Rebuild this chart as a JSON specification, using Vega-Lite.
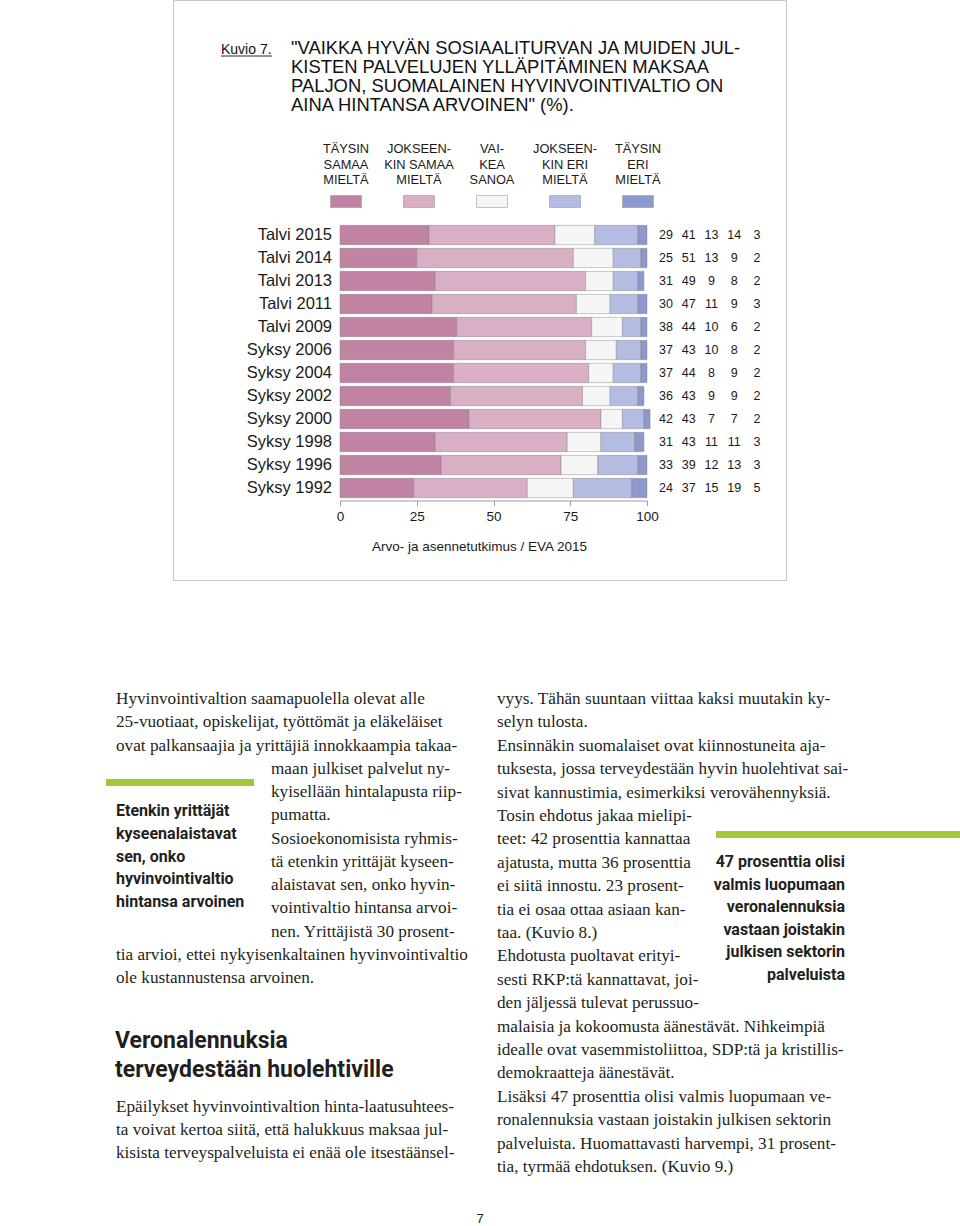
{
  "$schema": "https://vega.github.io/schema/vega-lite/v6.json",
  "width": 960,
  "height": 1226,
  "autosize": {"type": "none"},
  "padding": 0,
  "background": "#ffffff",
  "config": {"view": {"stroke": null}},
  "datasets": {
    "kysely": [
      {"kausi": "Talvi 2015", "vastaus": "Täysin samaa mieltä", "k": 1, "osuus": 29},
      {"kausi": "Talvi 2015", "vastaus": "Jokseenkin samaa mieltä", "k": 2, "osuus": 41},
      {"kausi": "Talvi 2015", "vastaus": "Vaikea sanoa", "k": 3, "osuus": 13},
      {"kausi": "Talvi 2015", "vastaus": "Jokseenkin eri mieltä", "k": 4, "osuus": 14},
      {"kausi": "Talvi 2015", "vastaus": "Täysin eri mieltä", "k": 5, "osuus": 3},
      {"kausi": "Talvi 2014", "vastaus": "Täysin samaa mieltä", "k": 1, "osuus": 25},
      {"kausi": "Talvi 2014", "vastaus": "Jokseenkin samaa mieltä", "k": 2, "osuus": 51},
      {"kausi": "Talvi 2014", "vastaus": "Vaikea sanoa", "k": 3, "osuus": 13},
      {"kausi": "Talvi 2014", "vastaus": "Jokseenkin eri mieltä", "k": 4, "osuus": 9},
      {"kausi": "Talvi 2014", "vastaus": "Täysin eri mieltä", "k": 5, "osuus": 2},
      {"kausi": "Talvi 2013", "vastaus": "Täysin samaa mieltä", "k": 1, "osuus": 31},
      {"kausi": "Talvi 2013", "vastaus": "Jokseenkin samaa mieltä", "k": 2, "osuus": 49},
      {"kausi": "Talvi 2013", "vastaus": "Vaikea sanoa", "k": 3, "osuus": 9},
      {"kausi": "Talvi 2013", "vastaus": "Jokseenkin eri mieltä", "k": 4, "osuus": 8},
      {"kausi": "Talvi 2013", "vastaus": "Täysin eri mieltä", "k": 5, "osuus": 2},
      {"kausi": "Talvi 2011", "vastaus": "Täysin samaa mieltä", "k": 1, "osuus": 30},
      {"kausi": "Talvi 2011", "vastaus": "Jokseenkin samaa mieltä", "k": 2, "osuus": 47},
      {"kausi": "Talvi 2011", "vastaus": "Vaikea sanoa", "k": 3, "osuus": 11},
      {"kausi": "Talvi 2011", "vastaus": "Jokseenkin eri mieltä", "k": 4, "osuus": 9},
      {"kausi": "Talvi 2011", "vastaus": "Täysin eri mieltä", "k": 5, "osuus": 3},
      {"kausi": "Talvi 2009", "vastaus": "Täysin samaa mieltä", "k": 1, "osuus": 38},
      {"kausi": "Talvi 2009", "vastaus": "Jokseenkin samaa mieltä", "k": 2, "osuus": 44},
      {"kausi": "Talvi 2009", "vastaus": "Vaikea sanoa", "k": 3, "osuus": 10},
      {"kausi": "Talvi 2009", "vastaus": "Jokseenkin eri mieltä", "k": 4, "osuus": 6},
      {"kausi": "Talvi 2009", "vastaus": "Täysin eri mieltä", "k": 5, "osuus": 2},
      {"kausi": "Syksy 2006", "vastaus": "Täysin samaa mieltä", "k": 1, "osuus": 37},
      {"kausi": "Syksy 2006", "vastaus": "Jokseenkin samaa mieltä", "k": 2, "osuus": 43},
      {"kausi": "Syksy 2006", "vastaus": "Vaikea sanoa", "k": 3, "osuus": 10},
      {"kausi": "Syksy 2006", "vastaus": "Jokseenkin eri mieltä", "k": 4, "osuus": 8},
      {"kausi": "Syksy 2006", "vastaus": "Täysin eri mieltä", "k": 5, "osuus": 2},
      {"kausi": "Syksy 2004", "vastaus": "Täysin samaa mieltä", "k": 1, "osuus": 37},
      {"kausi": "Syksy 2004", "vastaus": "Jokseenkin samaa mieltä", "k": 2, "osuus": 44},
      {"kausi": "Syksy 2004", "vastaus": "Vaikea sanoa", "k": 3, "osuus": 8},
      {"kausi": "Syksy 2004", "vastaus": "Jokseenkin eri mieltä", "k": 4, "osuus": 9},
      {"kausi": "Syksy 2004", "vastaus": "Täysin eri mieltä", "k": 5, "osuus": 2},
      {"kausi": "Syksy 2002", "vastaus": "Täysin samaa mieltä", "k": 1, "osuus": 36},
      {"kausi": "Syksy 2002", "vastaus": "Jokseenkin samaa mieltä", "k": 2, "osuus": 43},
      {"kausi": "Syksy 2002", "vastaus": "Vaikea sanoa", "k": 3, "osuus": 9},
      {"kausi": "Syksy 2002", "vastaus": "Jokseenkin eri mieltä", "k": 4, "osuus": 9},
      {"kausi": "Syksy 2002", "vastaus": "Täysin eri mieltä", "k": 5, "osuus": 2},
      {"kausi": "Syksy 2000", "vastaus": "Täysin samaa mieltä", "k": 1, "osuus": 42},
      {"kausi": "Syksy 2000", "vastaus": "Jokseenkin samaa mieltä", "k": 2, "osuus": 43},
      {"kausi": "Syksy 2000", "vastaus": "Vaikea sanoa", "k": 3, "osuus": 7},
      {"kausi": "Syksy 2000", "vastaus": "Jokseenkin eri mieltä", "k": 4, "osuus": 7},
      {"kausi": "Syksy 2000", "vastaus": "Täysin eri mieltä", "k": 5, "osuus": 2},
      {"kausi": "Syksy 1998", "vastaus": "Täysin samaa mieltä", "k": 1, "osuus": 31},
      {"kausi": "Syksy 1998", "vastaus": "Jokseenkin samaa mieltä", "k": 2, "osuus": 43},
      {"kausi": "Syksy 1998", "vastaus": "Vaikea sanoa", "k": 3, "osuus": 11},
      {"kausi": "Syksy 1998", "vastaus": "Jokseenkin eri mieltä", "k": 4, "osuus": 11},
      {"kausi": "Syksy 1998", "vastaus": "Täysin eri mieltä", "k": 5, "osuus": 3},
      {"kausi": "Syksy 1996", "vastaus": "Täysin samaa mieltä", "k": 1, "osuus": 33},
      {"kausi": "Syksy 1996", "vastaus": "Jokseenkin samaa mieltä", "k": 2, "osuus": 39},
      {"kausi": "Syksy 1996", "vastaus": "Vaikea sanoa", "k": 3, "osuus": 12},
      {"kausi": "Syksy 1996", "vastaus": "Jokseenkin eri mieltä", "k": 4, "osuus": 13},
      {"kausi": "Syksy 1996", "vastaus": "Täysin eri mieltä", "k": 5, "osuus": 3},
      {"kausi": "Syksy 1992", "vastaus": "Täysin samaa mieltä", "k": 1, "osuus": 24},
      {"kausi": "Syksy 1992", "vastaus": "Jokseenkin samaa mieltä", "k": 2, "osuus": 37},
      {"kausi": "Syksy 1992", "vastaus": "Vaikea sanoa", "k": 3, "osuus": 15},
      {"kausi": "Syksy 1992", "vastaus": "Jokseenkin eri mieltä", "k": 4, "osuus": 19},
      {"kausi": "Syksy 1992", "vastaus": "Täysin eri mieltä", "k": 5, "osuus": 5}
    ]
  },
  "resolve": {"scale": {"x": "independent", "y": "independent", "color": "independent"}},
  "layer": [
    {
      "data": {"values": [{"kuvio": "Kuvio 7"}]},
      "mark": {"type": "rect", "fill": "transparent", "stroke": "#c8c8c8", "strokeWidth": 1},
      "encoding": {
        "x": {"datum": 0, "type": "quantitative", "scale": {"domain": [0, 1], "range": [173.5, 786.5], "nice": false, "zero": false}, "axis": null},
        "x2": {"datum": 1},
        "y": {"datum": 0, "type": "quantitative", "scale": {"domain": [0, 1], "range": [0.5, 580.5], "nice": false, "zero": false}, "axis": null},
        "y2": {"datum": 1}
      }
    },
    {
      "data": {"values": [
        {"osa": "kuvio", "rivi": 0, "teksti": "Kuvio 7."},
        {"osa": "otsikko", "rivi": 0, "teksti": "\"VAIKKA HYVÄN SOSIAALITURVAN JA MUIDEN JUL-"},
        {"osa": "otsikko", "rivi": 1, "teksti": "KISTEN PALVELUJEN YLLÄPITÄMINEN MAKSAA"},
        {"osa": "otsikko", "rivi": 2, "teksti": "PALJON, SUOMALAINEN HYVINVOINTIVALTIO ON"},
        {"osa": "otsikko", "rivi": 3, "teksti": "AINA HINTANSA ARVOINEN\" (%)."}
      ]},
      "encoding": {
        "x": {"field": "osa", "type": "nominal", "sort": null, "scale": {"type": "point", "domain": ["kuvio", "otsikko"], "range": [221, 291], "padding": 0}, "axis": null},
        "y": {"field": "rivi", "type": "quantitative", "scale": {"domain": [0, 3], "range": [53.5, 110.5], "nice": false, "zero": false}, "axis": null}
      },
      "layer": [
        {
          "transform": [{"filter": {"field": "osa", "equal": "otsikko"}}],
          "mark": {"type": "text", "align": "left", "baseline": "alphabetic", "font": "Liberation Sans", "fontSize": 18.4, "color": "#111111"},
          "encoding": {"text": {"field": "teksti"}}
        },
        {
          "transform": [{"filter": {"field": "osa", "equal": "kuvio"}}],
          "mark": {"type": "text", "align": "left", "baseline": "alphabetic", "font": "Liberation Sans", "fontSize": 14, "color": "#111111"},
          "encoding": {"text": {"field": "teksti"}}
        },
        {
          "transform": [{"filter": {"field": "osa", "equal": "kuvio"}}],
          "mark": {"type": "rule", "x2Offset": -19, "yOffset": 2.5, "color": "#111111", "strokeWidth": 0.9},
          "encoding": {"x2": {"datum": "otsikko"}}
        }
      ]
    },
    {
      "data": {"values": [
        {"vastaus": "Täysin samaa mieltä", "nimi": "TÄYSIN\nSAMAA\nMIELTÄ"},
        {"vastaus": "Jokseenkin samaa mieltä", "nimi": "JOKSEEN-\nKIN SAMAA\nMIELTÄ"},
        {"vastaus": "Vaikea sanoa", "nimi": "VAI-\nKEA\nSANOA"},
        {"vastaus": "Jokseenkin eri mieltä", "nimi": "JOKSEEN-\nKIN ERI\nMIELTÄ"},
        {"vastaus": "Täysin eri mieltä", "nimi": "TÄYSIN\nERI\nMIELTÄ"}
      ]},
      "encoding": {
        "x": {"field": "vastaus", "type": "nominal", "sort": null, "scale": {"type": "point", "range": [346, 638], "padding": 0}, "axis": null}
      },
      "layer": [
        {
          "mark": {"type": "point", "shape": "M-1,-0.387H1V0.387H-1Z", "size": 961, "filled": true, "opacity": 1, "stroke": "#9a9a9a", "strokeWidth": 0.6},
          "encoding": {
            "y": {"datum": "ruutu", "type": "nominal", "scale": {"type": "point", "domain": ["teksti", "ruutu"], "range": [143, 201.5], "padding": 0}, "axis": null},
            "color": {"field": "vastaus", "type": "nominal", "scale": {"domain": ["Täysin samaa mieltä", "Jokseenkin samaa mieltä", "Vaikea sanoa", "Jokseenkin eri mieltä", "Täysin eri mieltä"], "range": ["#c083a3", "#d8afc4", "#f5f5f5", "#b4bde1", "#8d99cd"]}, "legend": null}
          }
        },
        {
          "mark": {"type": "text", "lineBreak": "\n", "align": "center", "baseline": "top", "font": "Liberation Sans", "fontSize": 12.8, "lineHeight": 15.5, "color": "#1a1a1a"},
          "encoding": {
            "y": {"datum": "teksti", "type": "nominal"},
            "text": {"field": "nimi"}
          }
        }
      ]
    },
    {
      "data": {"name": "kysely"},
      "encoding": {
        "y": {"field": "kausi", "type": "nominal", "sort": null, "scale": {"range": [223.5, 499.5], "paddingInner": 0.16, "paddingOuter": 0.08}, "axis": null}
      },
      "layer": [
        {
          "mark": {"type": "bar", "stroke": "#7a7a7a", "strokeOpacity": 0.5, "strokeWidth": 0.8},
          "encoding": {
            "x": {
              "field": "osuus", "type": "quantitative", "stack": "zero",
              "scale": {"domain": [0, 100], "range": [340, 647], "nice": false},
              "axis": {
                "orient": "bottom", "offset": -725.5, "zindex": 1, "values": [0, 25, 50, 75, 100], "grid": false,
                "domainColor": "#9a9a9a", "tickColor": "#9a9a9a", "tickSize": 5, "labelFlush": false,
                "labelFont": "Liberation Sans", "labelFontSize": 13.5, "labelColor": "#1a1a1a", "labelPadding": 4,
                "title": "Arvo- ja asennetutkimus / EVA 2015", "titleFont": "Liberation Sans", "titleFontSize": 13.5,
                "titleFontWeight": "normal", "titleColor": "#1a1a1a", "titleX": 479, "titleY": 46,
                "titleAlign": "center", "titleBaseline": "middle"
              }
            },
            "color": {"field": "vastaus", "type": "nominal", "scale": {"domain": ["Täysin samaa mieltä", "Jokseenkin samaa mieltä", "Vaikea sanoa", "Jokseenkin eri mieltä", "Täysin eri mieltä"], "range": ["#c083a3", "#d8afc4", "#f5f5f5", "#b4bde1", "#8d99cd"]}, "legend": null},
            "order": {"field": "k", "type": "quantitative"}
          }
        },
        {
          "transform": [{"filter": {"field": "k", "equal": 1}}],
          "mark": {"type": "text", "align": "right", "baseline": "middle", "dx": -8, "font": "Liberation Sans", "fontSize": 16.5, "color": "#1a1a1a"},
          "encoding": {
            "x": {"datum": 0, "type": "quantitative"},
            "text": {"field": "kausi"}
          }
        }
      ]
    },
    {
      "data": {"name": "kysely"},
      "mark": {"type": "text", "align": "center", "baseline": "middle", "font": "Liberation Sans", "fontSize": 12.5, "color": "#1a1a1a"},
      "encoding": {
        "y": {"field": "kausi", "type": "nominal", "sort": null, "scale": {"range": [223.5, 499.5], "paddingInner": 0.16, "paddingOuter": 0.08}, "axis": null},
        "x": {"field": "k", "type": "ordinal", "scale": {"type": "point", "range": [666, 757], "padding": 0}, "axis": null},
        "text": {"field": "osuus"}
      }
    },
    {
      "data": {"values": [
        {"sisennys": "koko", "rivi": 0, "teksti": "Hyvinvointivaltion saamapuolella olevat alle"},
        {"sisennys": "koko", "rivi": 1, "teksti": "25-vuotiaat, opiskelijat, työttömät ja eläkeläiset"},
        {"sisennys": "koko", "rivi": 2, "teksti": "ovat palkansaajia ja yrittäjiä innokkaampia takaa-"},
        {"sisennys": "kapea", "rivi": 3, "teksti": "maan julkiset palvelut ny-"},
        {"sisennys": "kapea", "rivi": 4, "teksti": "kyisellään hintalapusta riip-"},
        {"sisennys": "kapea", "rivi": 5, "teksti": "pumatta."},
        {"sisennys": "kapea", "rivi": 6, "teksti": "Sosioekonomisista ryhmis-"},
        {"sisennys": "kapea", "rivi": 7, "teksti": "tä etenkin yrittäjät kyseen-"},
        {"sisennys": "kapea", "rivi": 8, "teksti": "alaistavat sen, onko hyvin-"},
        {"sisennys": "kapea", "rivi": 9, "teksti": "vointivaltio hintansa arvoi-"},
        {"sisennys": "kapea", "rivi": 10, "teksti": "nen. Yrittäjistä 30 prosent-"},
        {"sisennys": "koko", "rivi": 11, "teksti": "tia arvioi, ettei nykyisenkaltainen hyvinvointivaltio"},
        {"sisennys": "koko", "rivi": 12, "teksti": "ole kustannustensa arvoinen."}
      ]},
      "mark": {"type": "text", "align": "left", "baseline": "middle", "font": "Liberation Serif", "fontSize": 17.2, "color": "#231f20"},
      "encoding": {
        "x": {"field": "sisennys", "type": "nominal", "scale": {"type": "point", "domain": ["koko", "kapea"], "range": [116, 271], "padding": 0}, "axis": null},
        "y": {"field": "rivi", "type": "quantitative", "scale": {"domain": [0, 12], "range": [699, 978], "nice": false, "zero": false}, "axis": null},
        "text": {"field": "teksti"}
      }
    },
    {
      "data": {"values": [{"palkki": "vasen"}]},
      "mark": {"type": "rect", "color": "#a2c73b"},
      "encoding": {
        "x": {"datum": 0, "type": "quantitative", "scale": {"domain": [0, 1], "range": [106, 254], "nice": false, "zero": false}, "axis": null},
        "x2": {"datum": 1},
        "y": {"datum": 0, "type": "quantitative", "scale": {"domain": [0, 1], "range": [779, 786], "nice": false, "zero": false}, "axis": null},
        "y2": {"datum": 1}
      }
    },
    {
      "data": {"values": [
        {"rivi": 0, "teksti": "Etenkin yrittäjät"},
        {"rivi": 1, "teksti": "kyseenalaistavat"},
        {"rivi": 2, "teksti": "sen, onko"},
        {"rivi": 3, "teksti": "hyvinvointivaltio"},
        {"rivi": 4, "teksti": "hintansa arvoinen"}
      ]},
      "mark": {"type": "text", "align": "left", "baseline": "middle", "font": "Roboto", "fontWeight": "bold", "fontSize": 16, "color": "#231f20"},
      "encoding": {
        "x": {"datum": 0, "type": "quantitative", "scale": {"domain": [0, 1], "range": [116, 117], "nice": false, "zero": false}, "axis": null},
        "y": {"field": "rivi", "type": "quantitative", "scale": {"domain": [0, 4], "range": [811, 902], "nice": false, "zero": false}, "axis": null},
        "text": {"field": "teksti"}
      }
    },
    {
      "data": {"values": [
        {"rivi": 0, "teksti": "Veronalennuksia"},
        {"rivi": 1, "teksti": "terveydestään huolehtiville"}
      ]},
      "mark": {"type": "text", "align": "left", "baseline": "middle", "font": "Roboto", "fontWeight": "bold", "fontSize": 23, "color": "#231f20"},
      "encoding": {
        "x": {"datum": 0, "type": "quantitative", "scale": {"domain": [0, 1], "range": [115, 116], "nice": false, "zero": false}, "axis": null},
        "y": {"field": "rivi", "type": "quantitative", "scale": {"domain": [0, 1], "range": [1041, 1070], "nice": false, "zero": false}, "axis": null},
        "text": {"field": "teksti"}
      }
    },
    {
      "data": {"values": [
        {"rivi": 0, "teksti": "Epäilykset hyvinvointivaltion hinta-laatusuhtees-"},
        {"rivi": 1, "teksti": "ta voivat kertoa siitä, että halukkuus maksaa jul-"},
        {"rivi": 2, "teksti": "kisista terveyspalveluista ei enää ole itsestäänsel-"}
      ]},
      "mark": {"type": "text", "align": "left", "baseline": "middle", "font": "Liberation Serif", "fontSize": 17.2, "color": "#231f20"},
      "encoding": {
        "x": {"datum": 0, "type": "quantitative", "scale": {"domain": [0, 1], "range": [116, 117], "nice": false, "zero": false}, "axis": null},
        "y": {"field": "rivi", "type": "quantitative", "scale": {"domain": [0, 2], "range": [1107, 1153], "nice": false, "zero": false}, "axis": null},
        "text": {"field": "teksti"}
      }
    },
    {
      "data": {"values": [
        {"rivi": 0, "teksti": "vyys. Tähän suuntaan viittaa kaksi muutakin ky-"},
        {"rivi": 1, "teksti": "selyn tulosta."},
        {"rivi": 2, "teksti": "Ensinnäkin suomalaiset ovat kiinnostuneita aja-"},
        {"rivi": 3, "teksti": "tuksesta, jossa terveydestään hyvin huolehtivat sai-"},
        {"rivi": 4, "teksti": "sivat kannustimia, esimerkiksi verovähennyksiä."},
        {"rivi": 5, "teksti": "Tosin ehdotus jakaa mielipi-"},
        {"rivi": 6, "teksti": "teet: 42 prosenttia kannattaa"},
        {"rivi": 7, "teksti": "ajatusta, mutta 36 prosenttia"},
        {"rivi": 8, "teksti": "ei siitä innostu. 23 prosent-"},
        {"rivi": 9, "teksti": "tia ei osaa ottaa asiaan kan-"},
        {"rivi": 10, "teksti": "taa. (Kuvio 8.)"},
        {"rivi": 11, "teksti": "Ehdotusta puoltavat erityi-"},
        {"rivi": 12, "teksti": "sesti RKP:tä kannattavat, joi-"},
        {"rivi": 13, "teksti": "den jäljessä tulevat perussuo-"},
        {"rivi": 14, "teksti": "malaisia ja kokoomusta äänestävät. Nihkeimpiä"},
        {"rivi": 15, "teksti": "idealle ovat vasemmistoliittoa, SDP:tä ja kristillis-"},
        {"rivi": 16, "teksti": "demokraatteja äänestävät."},
        {"rivi": 17, "teksti": "Lisäksi 47 prosenttia olisi valmis luopumaan ve-"},
        {"rivi": 18, "teksti": "ronalennuksia vastaan joistakin julkisen sektorin"},
        {"rivi": 19, "teksti": "palveluista. Huomattavasti harvempi, 31 prosent-"},
        {"rivi": 20, "teksti": "tia, tyrmää ehdotuksen. (Kuvio 9.)"}
      ]},
      "mark": {"type": "text", "align": "left", "baseline": "middle", "font": "Liberation Serif", "fontSize": 17.2, "color": "#231f20"},
      "encoding": {
        "x": {"datum": 0, "type": "quantitative", "scale": {"domain": [0, 1], "range": [497, 498], "nice": false, "zero": false}, "axis": null},
        "y": {"field": "rivi", "type": "quantitative", "scale": {"domain": [0, 20], "range": [699, 1167], "nice": false, "zero": false}, "axis": null},
        "text": {"field": "teksti"}
      }
    },
    {
      "data": {"values": [{"palkki": "oikea"}]},
      "mark": {"type": "rect", "color": "#a2c73b"},
      "encoding": {
        "x": {"datum": 0, "type": "quantitative", "scale": {"domain": [0, 1], "range": [716, 960], "nice": false, "zero": false}, "axis": null},
        "x2": {"datum": 1},
        "y": {"datum": 0, "type": "quantitative", "scale": {"domain": [0, 1], "range": [831, 838], "nice": false, "zero": false}, "axis": null},
        "y2": {"datum": 1}
      }
    },
    {
      "data": {"values": [
        {"rivi": 0, "teksti": "47 prosenttia olisi"},
        {"rivi": 1, "teksti": "valmis luopumaan"},
        {"rivi": 2, "teksti": "veronalennuksia"},
        {"rivi": 3, "teksti": "vastaan joistakin"},
        {"rivi": 4, "teksti": "julkisen sektorin"},
        {"rivi": 5, "teksti": "palveluista"}
      ]},
      "mark": {"type": "text", "align": "right", "baseline": "middle", "font": "Roboto", "fontWeight": "bold", "fontSize": 16, "color": "#231f20"},
      "encoding": {
        "x": {"datum": 0, "type": "quantitative", "scale": {"domain": [0, 1], "range": [845, 846], "nice": false, "zero": false}, "axis": null},
        "y": {"field": "rivi", "type": "quantitative", "scale": {"domain": [0, 5], "range": [862, 975], "nice": false, "zero": false}, "axis": null},
        "text": {"field": "teksti"}
      }
    },
    {
      "data": {"values": [{"sivu": "7"}]},
      "mark": {"type": "text", "align": "center", "baseline": "middle", "font": "Liberation Sans", "fontSize": 13, "color": "#231f20"},
      "encoding": {
        "x": {"datum": 0, "type": "quantitative", "scale": {"domain": [0, 1], "range": [480, 481], "nice": false, "zero": false}, "axis": null},
        "y": {"datum": 0, "type": "quantitative", "scale": {"domain": [0, 1], "range": [1219, 1220], "nice": false, "zero": false}, "axis": null},
        "text": {"field": "sivu"}
      }
    }
  ]
}
